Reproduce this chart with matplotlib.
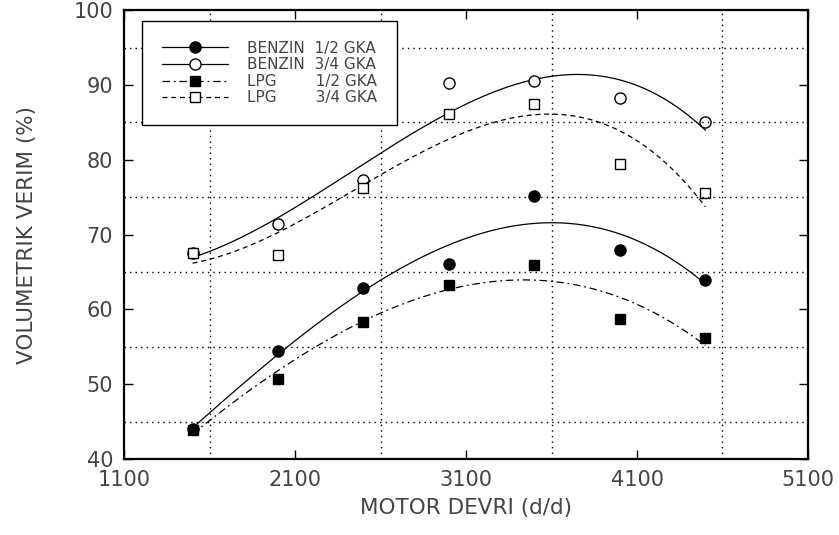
import matplotlib.pyplot as plt
import numpy as np

# Veriler
devir = np.array([1500, 2000, 2500, 3000, 3500, 4000, 4500])
benzin_12 = np.array([44.0, 54.4, 62.8, 66.1, 75.1, 67.9, 63.9])
benzin_34 = np.array([67.6, 71.4, 77.3, 90.2, 90.5, 88.3, 85.0])
lpg_12 = np.array([43.9, 50.7, 58.3, 63.2, 66.0, 58.7, 56.2])
lpg_34 = np.array([67.6, 67.3, 76.2, 86.1, 87.4, 79.4, 75.5])

plt.rcParams['font.family'] = 'DejaVu Sans'
fig = plt.figure(figsize=(8.39, 5.35), dpi=100)
ax = fig.add_axes([0.148, 0.142, 0.815, 0.839])

xx = np.linspace(devir[0], devir[-1], 200)
seriler = [
    (benzin_12, 'o', 'black', '-', 'BENZIN  1/2 GKA'),
    (benzin_34, 'o', 'white', '-', 'BENZIN  3/4 GKA'),
    (lpg_12, 's', 'black', (0, (6, 3, 1.5, 3)), 'LPG        1/2 GKA'),
    (lpg_34, 's', 'white', (0, (4, 3)), 'LPG        3/4 GKA'),
]
for y, m, fc, ls, lab in seriler:
    # 3. derece polinom egrisi
    k = np.polyfit((devir - 3000) / 1000.0, y, 3)
    ax.plot(xx, np.polyval(k, (xx - 3000) / 1000.0), color='black', lw=0.9, ls=ls)
    ms = 8 if m == 'o' else 7.5
    ax.plot(devir, y, m, ms=ms, mfc=fc, mec='black', mew=1, ls='none')
    ax.plot([], [], color='black', lw=0.9, ls=ls, marker=m, ms=ms,
            mfc=fc, mec='black', label=lab)

ax.set_xlim(1100, 5100)
ax.set_ylim(40, 100)
ax.set_xticks([1100, 2100, 3100, 4100, 5100])
ax.set_yticks(range(40, 101, 10))
for gx in [1600, 2600, 3600, 4600]:
    ax.axvline(gx, color='black', ls=(0, (1, 3)), lw=1)
for gy in [45, 55, 65, 75, 85, 95]:
    ax.axhline(gy, color='black', ls=(0, (1, 3)), lw=1)

ax.tick_params(direction='in', length=6.5, width=1, top=True, right=True,
               labelsize=15, labelcolor='#444444', pad=8)
for s in ax.spines.values():
    s.set_linewidth(1.6)

ax.set_xlabel('MOTOR DEVRI (d/d)', fontsize=15.5, color='#444444', labelpad=6)
ax.set_ylabel('VOLUMETRIK VERIM (%)', fontsize=15.5, color='#444444', labelpad=26)

leg = ax.legend(loc='upper left', bbox_to_anchor=(0.026, 0.976), fontsize=11,
                handlelength=4.3, handletextpad=1.3, labelspacing=0.1,
                borderpad=1.3, borderaxespad=0, fancybox=False,
                edgecolor='black', framealpha=1)
leg.get_frame().set_linewidth(1)
for t in leg.get_texts():
    t.set_color('#444444')

plt.savefig('out.png', dpi=100)
